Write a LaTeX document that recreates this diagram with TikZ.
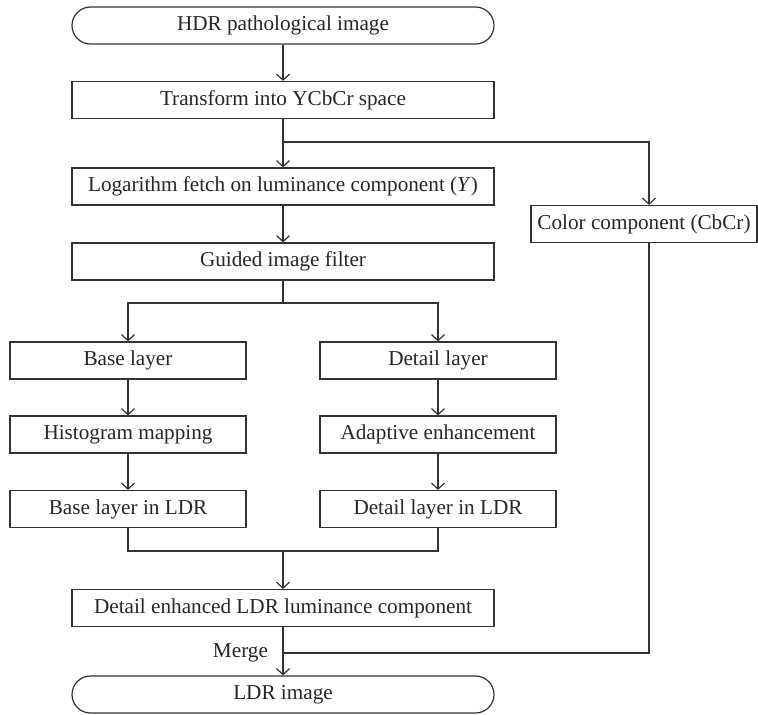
\documentclass[tikz,border=0pt]{standalone}
\usepackage{fontspec}
\setmainfont{Liberation Serif}
\usepackage{tikz}
\usetikzlibrary{arrows.meta,positioning}

\begin{document}
\begin{tikzpicture}[y=-0.5pt,x=0.5pt,
	box/.style={draw=black!80, line width=0.6pt, text=black!85, minimum height=18.5pt, inner sep=0pt, font=\fontsize{10.6}{12}\selectfont},
	wide/.style={box, minimum width=211pt},
	half/.style={box, minimum width=118pt},
	term/.style={wide, rounded corners=9.25pt},
	flow/.style={draw=black!80, line width=0.6pt, -{Straight Barb[length=3pt,width=6.5pt]}},
	link/.style={draw=black!80, line width=0.6pt}]
	\useasboundingbox (0,0) rectangle (758,714);

	% main column
	\node[term] (hdr) at (283,25.5) {HDR pathological image};
	\node[wide] (ycbcr) at (283,100) {Transform into YCbCr space};
	\node[wide] (logy) at (283,186.5) {Logarithm fetch on luminance component (\textit{Y})};
	\node[box, minimum width=113pt] (cbcr) at (644,224) {Color component (CbCr)};
	\node[wide] (gif) at (283,261.5) {Guided image filter};

	% two layers
	\node[half] (base) at (128,360.5) {Base layer};
	\node[half] (detail) at (438,360.5) {Detail layer};
	\node[half] (hist) at (128,434.5) {Histogram mapping};
	\node[half] (adapt) at (438,434.5) {Adaptive enhancement};
	\node[half] (baseldr) at (128,509) {Base layer in LDR};
	\node[half] (detailldr) at (438,509) {Detail layer in LDR};

	\node[wide] (enh) at (283,608) {Detail enhanced LDR luminance component};
	\node[term] (ldr) at (283,694.5) {LDR image};

	\coordinate (fork) at (283,142);
	\coordinate (forkc) at (649,142);
	\coordinate (split) at (283,303);
	\coordinate (join) at (283,551);
	\coordinate (merge) at (283,653);

	\draw[flow] (hdr) -- (ycbcr);
	\draw[link] (ycbcr) -- (fork);
	\draw[flow] (fork) -- (logy);
	\draw[flow] (fork) -- (forkc) -- (forkc |- cbcr.north);
	\draw[flow] (logy) -- (gif);
	\draw[link] (gif) -- (split);
	\draw[flow] (split) -| (base);
	\draw[flow] (split) -| (detail);
	\draw[flow] (base) -- (hist);
	\draw[flow] (detail) -- (adapt);
	\draw[flow] (hist) -- (baseldr);
	\draw[flow] (adapt) -- (detailldr);
	\draw[link] (baseldr) |- (join);
	\draw[link] (detailldr) |- (join);
	\draw[flow] (join) -- (enh);
	\draw[link] (enh) -- (merge);
	\draw[flow] (merge) -- (ldr);
	\draw[link] (cbcr.south -| forkc) |- (merge);
	\node[left=4pt, text=black!85, font=\fontsize{10.6}{12}\selectfont] (mergelbl) at (merge) {Merge};
\end{tikzpicture}
\end{document}
